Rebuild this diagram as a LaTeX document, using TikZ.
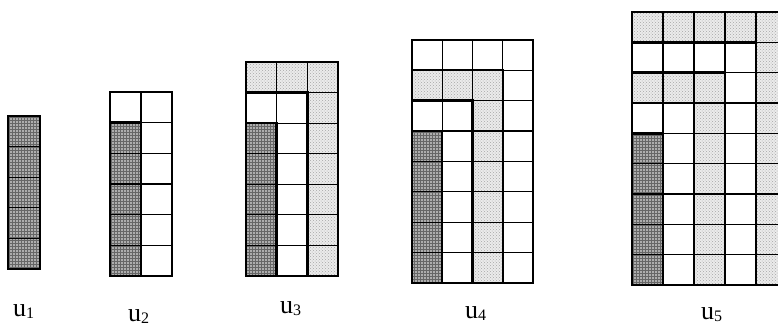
\documentclass[tikz,border=0pt]{standalone}
\usepackage{fontspec}
\setmainfont{Liberation Serif}
\usetikzlibrary{patterns}
\tikzset{
  darkcell/.style={fill=black!32, postaction={pattern=grid, pattern color=black!60}},
  lightcell/.style={fill=black!8, postaction={pattern=crosshatch dots, pattern color=black!35}},
  gridline/.style={line width=1.1pt},
  regionline/.style={line width=2.4pt, line join=miter},
  lab/.style={anchor=base west, inner sep=0pt, font=\fontsize{26}{28}\selectfont},
}
\newcommand\subn[1]{\raisebox{-2pt}{\fontsize{16}{16}\selectfont #1}}
\newcommand\drawfig[5]{%
  \begin{scope}[shift={(#1,#2)}, x=#3pt, y=#4pt]
    \fill[darkcell] (0,0) rectangle (1,5);
    \ifnum#5>1
    \foreach \k in {2,...,#5}{%
      \ifodd\k
        \fill[lightcell] (\k-1,0) -- (\k,0) -- (\k,\k+4) -- (0,\k+4) -- (0,\k+3) -- (\k-1,\k+3) -- cycle;
      \fi
    }
    \fi
    \foreach \i in {0,...,#5}{\draw[gridline] (\i,0) -- (\i,#5+4);}
    \pgfmathtruncatemacro\nrows{#5+4}
    \foreach \j in {0,...,\nrows}{\draw[gridline] (0,\j) -- (#5,\j);}
    \draw[regionline] (0,0) rectangle (1,5);
    \ifnum#5>1
    \foreach \k in {2,...,#5}{%
      \draw[regionline] (\k-1,0) -- (\k,0) -- (\k,\k+4) -- (0,\k+4) -- (0,\k+3) -- (\k-1,\k+3) -- cycle;
    }
    \fi
  \end{scope}}
\begin{document}
\begin{tikzpicture}[x=1pt,y=1pt]
  \useasboundingbox (0,0) rectangle (778,327);
  \clip (0,0) rectangle (778,327);
  \drawfig{8}{58}{32}{30.6}{1}
  \drawfig{110}{51}{31}{30.67}{2}
  \drawfig{246}{51}{30.67}{30.57}{3}
  \drawfig{412}{44}{30.25}{30.4}{4}
  \drawfig{632}{42}{31}{30.33}{5}
  \node[lab] (l1) at (13,11) {u\subn{1}};
  \node[lab] (l2) at (128,6) {u\subn{2}};
  \node[lab] (l3) at (280,14) {u\subn{3}};
  \node[lab] (l4) at (465,9) {u\subn{4}};
  \node[lab] (l5) at (701,8) {u\subn{5}};
\end{tikzpicture}
\end{document}
